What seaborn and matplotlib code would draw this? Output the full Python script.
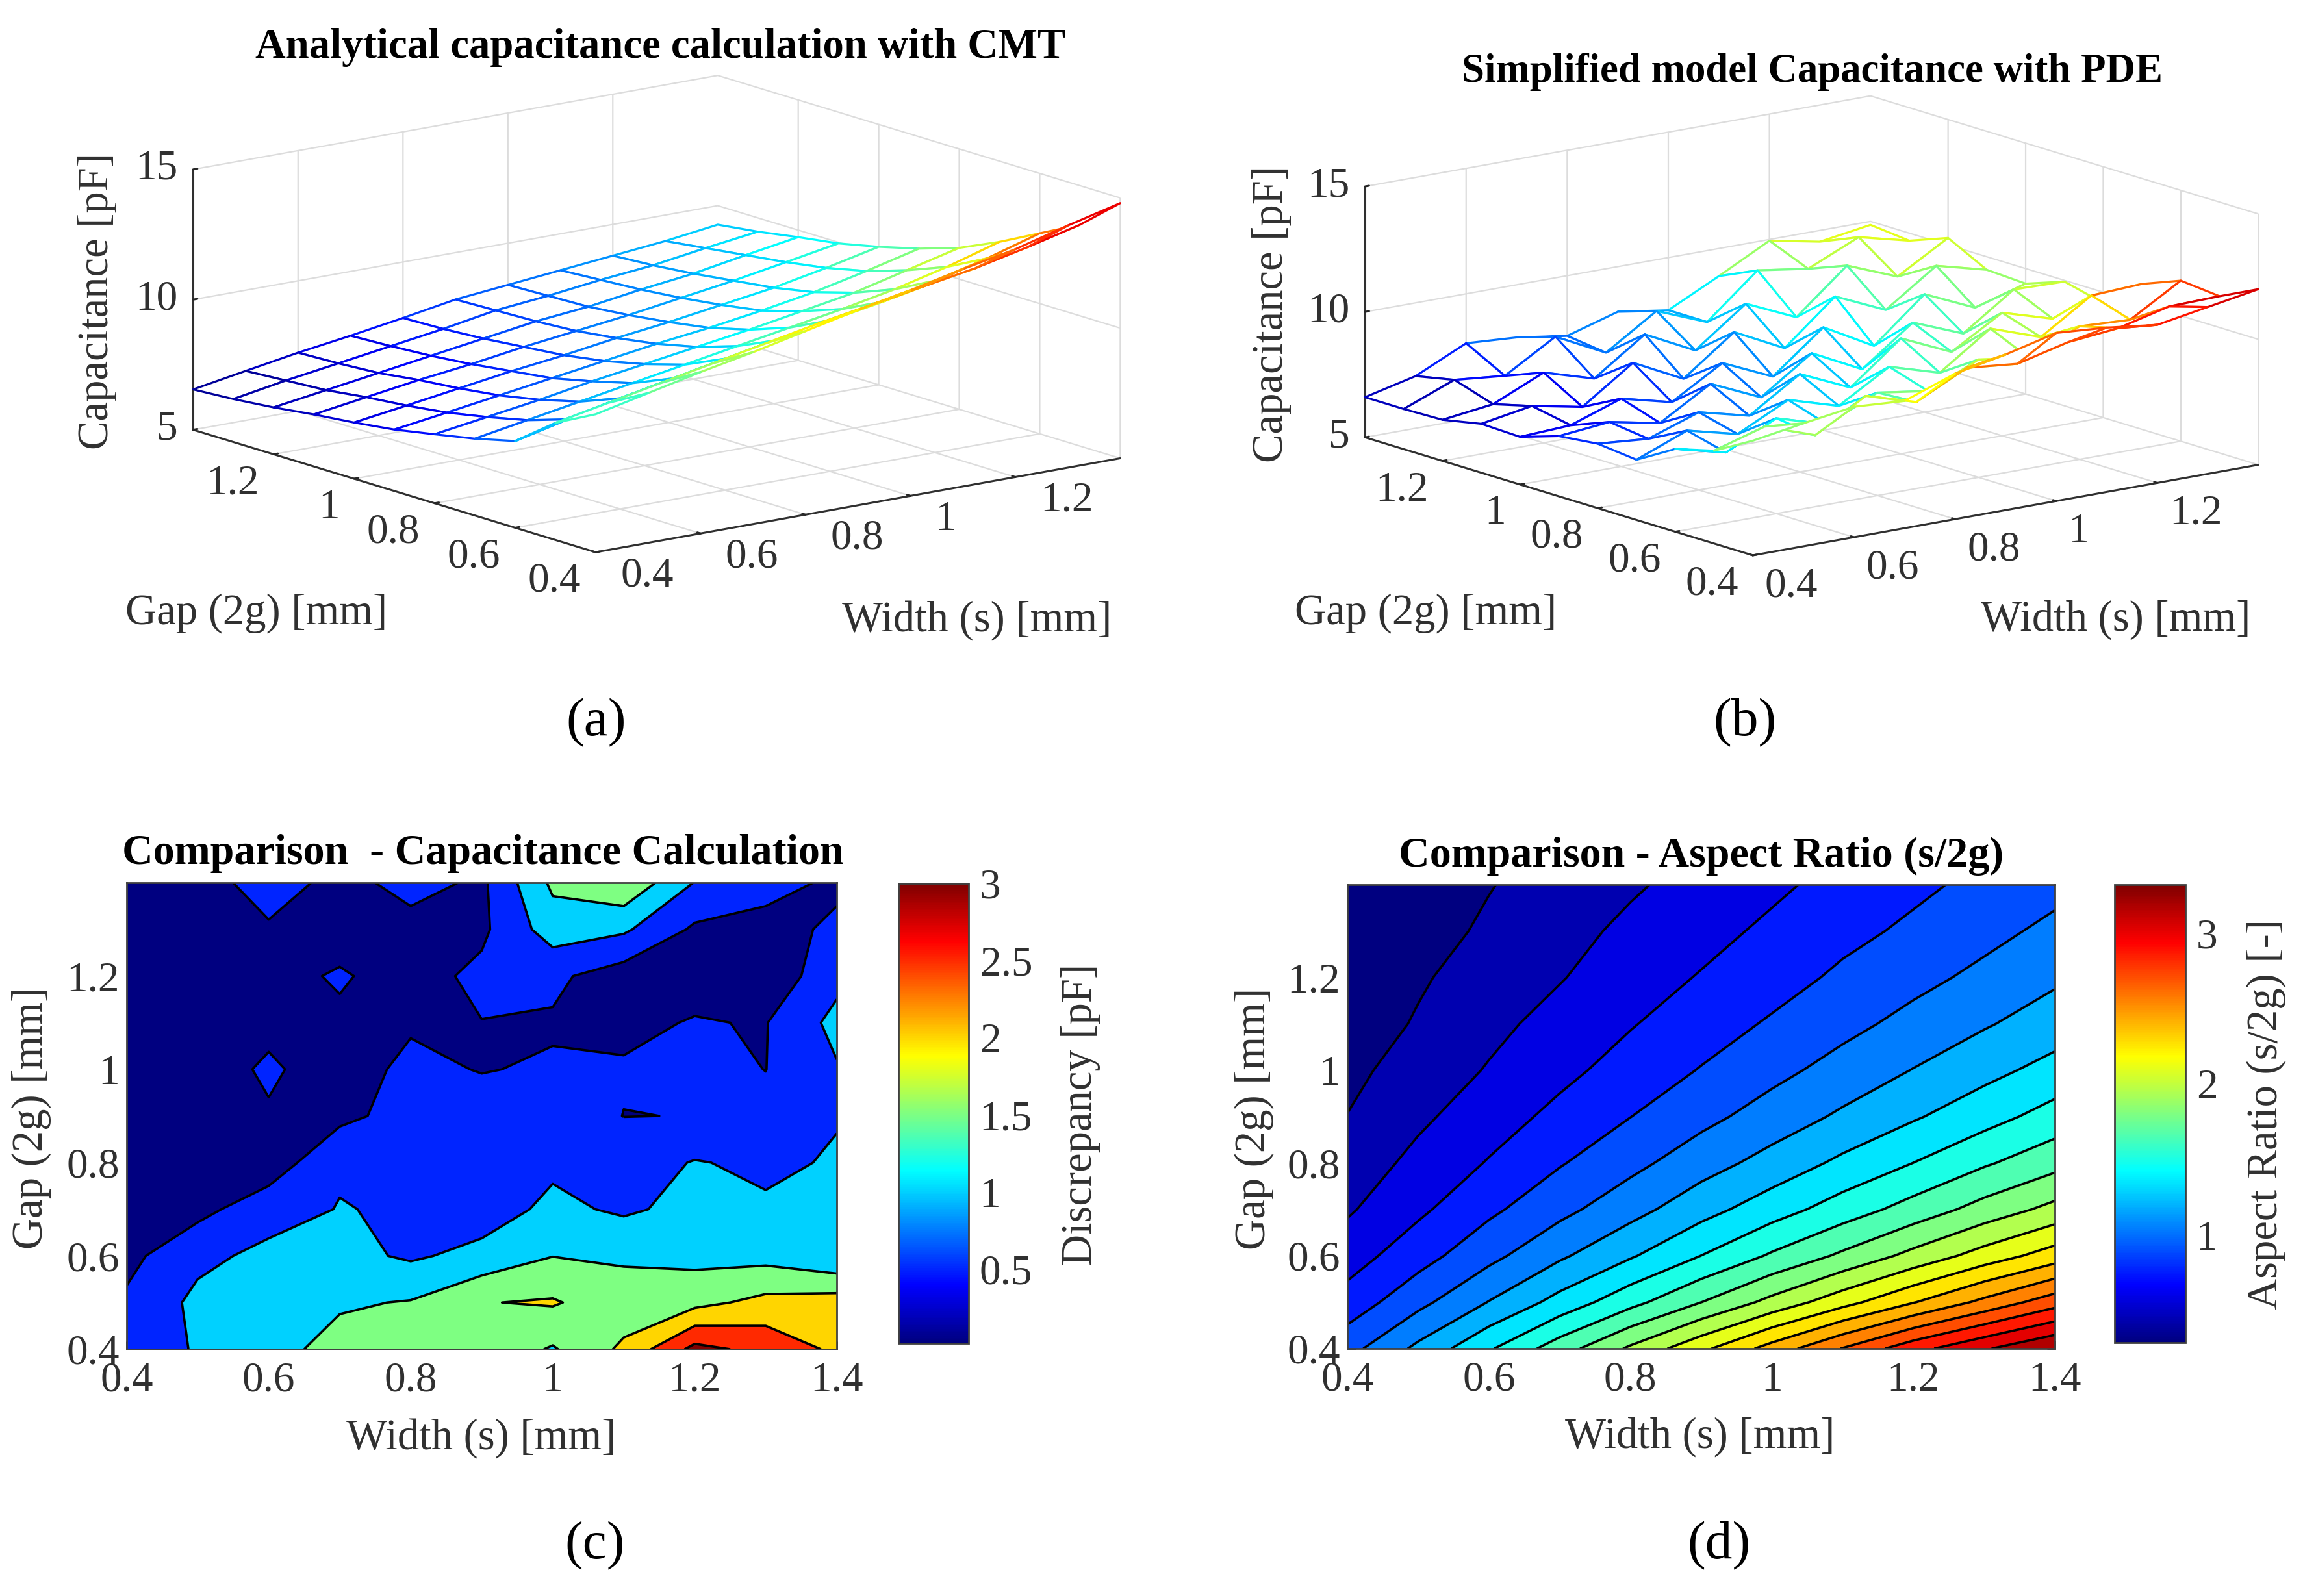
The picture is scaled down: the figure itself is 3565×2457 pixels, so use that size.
import numpy as np
import matplotlib
matplotlib.use("Agg")
import matplotlib.pyplot as plt
import seaborn as sns
from matplotlib.colors import Normalize, LinearSegmentedColormap
from matplotlib.cm import ScalarMappable

W, H = 3565, 2457

width_mm = [0.4, 0.5, 0.6, 0.7, 0.8, 0.9, 1.0, 1.1, 1.2, 1.3, 1.4]
gap_mm = [0.4, 0.5, 0.6, 0.7, 0.8, 0.9, 1.0, 1.1, 1.2, 1.3, 1.4]

# rows go with gap_mm, columns with width_mm
cap_cmt = [
    [10.3, 10.75, 11.2, 11.6, 12.05, 12.5, 12.9, 13.35, 13.75, 14.3, 14.8],
    [9.5, 9.9, 10.3, 10.7, 11.1, 11.5, 11.85, 12.2, 12.55, 13.0, 13.5],
    [8.33, 8.8, 9.25, 9.65, 10.05, 10.4, 10.8, 11.15, 11.6, 12.1, 12.7],
    [7.95, 8.3, 8.65, 9.0, 9.35, 9.7, 10.05, 10.4, 10.8, 11.3, 11.9],
    [7.65, 7.95, 8.25, 8.6, 8.9, 9.2, 9.5, 9.85, 10.2, 10.7, 11.2],
    [7.36, 7.65, 7.95, 8.25, 8.55, 8.85, 9.1, 9.4, 9.75, 10.2, 10.7],
    [7.16, 7.45, 7.75, 8.05, 8.3, 8.6, 8.85, 9.15, 9.45, 9.85, 10.3],
    [7.0, 7.3, 7.6, 7.85, 8.15, 8.4, 8.65, 8.95, 9.25, 9.6, 9.96],
    [6.8, 7.1, 7.4, 7.7, 8.0, 8.3, 8.5, 8.8, 9.05, 9.4, 9.73],
    [6.65, 7.0, 7.3, 7.6, 7.9, 8.25, 8.45, 8.7, 8.9, 9.2, 9.47],
    [6.55, 6.9, 7.24, 7.53, 7.85, 8.2, 8.4, 8.6, 8.8, 9.0, 9.27],
]

cap_pde = [
    [9.57, 9.9, 10.2, 10.07, 10.8, 11.2, 11.7, 11.55, 11.3, 11.65, 12.0],
    [8.7, 9.3, 8.6, 9.8, 9.2, 10.2, 10.0, 10.5, 10.7, 11.2, 11.25],
    [8.3, 7.8, 8.8, 8.2, 9.1, 8.8, 9.7, 9.4, 10.3, 10.2, 11.4],
    [7.4, 8.2, 7.7, 8.7, 8.1, 9.3, 8.7, 10.1, 9.4, 10.7, 10.8],
    [7.57, 7.4, 8.1, 7.6, 8.9, 8.0, 9.6, 8.7, 9.9, 9.3, 9.57],
    [7.4, 7.6, 7.2, 8.4, 7.5, 8.9, 7.9, 9.4, 8.6, 10.0, 9.95],
    [6.9, 7.0, 7.7, 7.2, 8.4, 7.5, 9.1, 8.0, 9.7, 8.8, 9.4],
    [6.95, 7.3, 6.9, 8.3, 7.3, 8.8, 7.8, 9.5, 8.6, 10.0, 9.48],
    [6.64, 6.9, 7.8, 7.2, 8.6, 7.6, 9.1, 8.2, 9.9, 9.1, 10.28],
    [6.6, 7.4, 7.2, 8.4, 7.4, 8.7, 7.9, 9.6, 9.3, 10.2, 9.7],
    [6.6, 7.08, 8.03, 7.9, 7.6, 8.2, 7.9, 8.9, 9.95, 9.55, 9.86],
]

discrepancy = [
    [0.80, 1.03, 1.32, 1.68, 1.80, 1.85, 1.45, 2.10, 3.15, 2.85, 2.40],
    [0.58, 1.12, 1.28, 1.44, 1.53, 1.98, 2.05, 1.70, 1.85, 2.15, 2.24],
    [0.36, 0.88, 1.12, 1.15, 0.93, 1.15, 1.49, 1.44, 1.35, 1.33, 1.05],
    [0.25, 0.35, 0.80, 1.02, 0.94, 0.75, 1.12, 0.92, 1.15, 1.07, 1.08],
    [0.20, 0.25, 0.20, 0.94, 0.85, 0.70, 0.90, 0.75, 1.03, 0.90, 1.05],
    [0.15, 0.20, 0.46, 0.37, 0.70, 0.70, 0.70, 0.495, 0.505, 0.60, 0.97],
    [0.15, 0.30, 0.56, 0.30, 0.60, 0.48, 0.55, 0.53, 0.62, 0.495, 0.96],
    [0.15, 0.20, 0.40, 0.42, 0.45, 0.49, 0.45, 0.43, 0.52, 0.48, 1.15],
    [0.10, 0.20, 0.35, 0.55, 0.30, 0.62, 0.60, 0.25, 0.38, 0.15, 0.85],
    [0.10, 0.15, 0.42, 0.30, 0.30, 0.40, 1.25, 1.08, 0.42, 0.30, 0.60],
    [0.10, 0.20, 0.80, 0.30, 0.70, 0.40, 1.60, 1.92, 0.98, 0.70, 0.40],
]

aspect_ratio = [
    [0.99, 1.23, 1.48, 1.73, 1.98, 2.22, 2.47, 2.72, 2.96, 3.15, 3.32],
    [0.80, 1.00, 1.20, 1.40, 1.60, 1.80, 2.00, 2.20, 2.40, 2.60, 2.80],
    [0.67, 0.83, 1.00, 1.17, 1.33, 1.50, 1.67, 1.83, 2.00, 2.17, 2.33],
    [0.57, 0.71, 0.86, 1.00, 1.14, 1.29, 1.43, 1.57, 1.71, 1.86, 2.00],
    [0.50, 0.63, 0.75, 0.88, 1.00, 1.13, 1.25, 1.38, 1.50, 1.63, 1.75],
    [0.44, 0.56, 0.67, 0.78, 0.89, 1.00, 1.11, 1.22, 1.33, 1.44, 1.56],
    [0.40, 0.50, 0.60, 0.70, 0.80, 0.90, 1.00, 1.10, 1.20, 1.30, 1.40],
    [0.36, 0.45, 0.55, 0.64, 0.73, 0.82, 0.91, 1.00, 1.09, 1.18, 1.27],
    [0.33, 0.42, 0.50, 0.58, 0.67, 0.75, 0.83, 0.92, 1.00, 1.08, 1.17],
    [0.31, 0.38, 0.46, 0.54, 0.62, 0.69, 0.77, 0.85, 0.92, 1.00, 1.08],
    [0.29, 0.36, 0.43, 0.50, 0.57, 0.64, 0.71, 0.79, 0.86, 0.93, 1.00],
]

discrepancy_levels = [0, 0.5, 1, 1.5, 2, 2.5, 3, 3.5]
aspect_levels = [0.2857, 0.437, 0.589, 0.74, 0.892, 1.044, 1.195, 1.347, 1.499, 1.65, 1.802,
                 1.954, 2.106, 2.257, 2.409, 2.561, 2.713, 2.864, 3.016, 3.168, 3.5]

tick_2d = [0.4, 0.6, 0.8, 1.0, 1.2, 1.4]
tick_names = ["0.4", "0.6", "0.8", "1", "1.2", "1.4"]
z_ticks = [5, 10, 15]

sns.set_theme(style="white", rc={"grid.color": "#dcdcdc", "grid.linewidth": 1.6})
plt.rcParams["font.family"] = ["Liberation Serif", "DejaVu Serif"]

# the MATLAB jet, not quite the same as matplotlib's
jet = LinearSegmentedColormap.from_list("matlab_jet", [
    (0.0, (0, 0, 0.5)), (0.125, (0, 0, 1)), (0.375, (0, 1, 1)),
    (0.625, (1, 1, 0)), (0.875, (1, 0, 0)), (1.0, (0.5, 0, 0))])

TEXT = "#303030"
TICK_SIZE = 47
LABEL_SIZE = 48

fig = plt.figure(figsize=(W / 100, H / 100), dpi=100)


def px_axes(left, top, right, bottom, **kw):
    return fig.add_axes([left / W, 1 - bottom / H, (right - left) / W, (bottom - top) / H], **kw)


def px_text(x, y, s, **kw):
    kw.setdefault("ha", "center")
    kw.setdefault("va", "center")
    kw.setdefault("color", TEXT)
    kw.setdefault("fontsize", LABEL_SIZE)
    fig.text(x / W, 1 - y / H, s, **kw)


def mesh_panel(rect, z_data, zoom, width_pad, width_va):
    ax = px_axes(*rect, projection="3d")
    ax.patch.set_alpha(0)
    ax.set_proj_type("ortho")
    ax.view_init(elev=13.5, azim=-127.5)
    ax.set_box_aspect((1, 1, 0.405), zoom=zoom)
    x, y = np.meshgrid(width_mm, gap_mm)
    z = np.array(z_data)
    norm = Normalize(z.min(), z.max())
    surf = ax.plot_surface(x, y, z, rstride=1, cstride=1, color="white", shade=False, linewidth=2.3)
    surf.set_clip_on(False)
    cell = (z[:-1, :-1] + z[1:, :-1] + z[:-1, 1:] + z[1:, 1:]) / 4
    surf.set_edgecolor(jet(norm(cell.ravel())))
    ax.set_xlim(0.4, 1.4, view_margin=0)
    ax.set_ylim(0.4, 1.4, view_margin=0)
    ax.set_zlim(5, 15, view_margin=0)
    ax.set_xticks(tick_2d[:-1], tick_names[:-1], ha="left", va=width_va)
    ax.set_yticks(tick_2d[:-1], tick_names[:-1], ha="right")
    ax.set_zticks(z_ticks, [str(t) for t in z_ticks], ha="right", va="center")
    ax.tick_params(labelsize=TICK_SIZE, labelcolor=TEXT, pad=2)
    ax.tick_params(axis="x", pad=width_pad)
    ax.tick_params(axis="z", pad=-2)
    for axis in (ax.xaxis, ax.yaxis, ax.zaxis):
        axis.set_pane_color((1, 1, 1, 0))
        axis.pane.set_edgecolor("#dcdcdc")
        axis.pane.set_linewidth(1.6)
        axis.line.set_color("#303030")
        axis.line.set_linewidth(2.2)
        axis._axinfo["tick"]["inward_factor"] = 0.0
        axis._axinfo["tick"]["outward_factor"] = 0.1
        axis._axinfo["tick"]["color"] = "#303030"
        axis._axinfo["tick"]["linewidth"] = {True: 2.2, False: 1.0}
    return ax


def contour_panel(rect, cbar_rect, data, levels, vmin, vmax, bar_ticks):
    ax = px_axes(*rect)
    norm = Normalize(vmin, vmax)
    colors = [jet(norm(v)) for v in levels[:-1]]
    ax.contourf(width_mm, gap_mm, data, levels=levels, colors=colors)
    ax.contour(width_mm, gap_mm, data, levels=levels[1:-1], colors="black", linewidths=2.6)
    ax.set_xlim(0.4, 1.4)
    ax.set_ylim(0.4, 1.4)
    ax.set_xticks(tick_2d, tick_names)
    ax.set_yticks(tick_2d[:-1], tick_names[:-1])
    ax.tick_params(direction="in", length=9, width=2, labelsize=TICK_SIZE, labelcolor=TEXT,
                   color="#303030", top=False, right=True, left=True, bottom=True)
    ax.tick_params(axis="x", pad=14)
    ax.tick_params(axis="y", pad=8)
    for s in ax.spines.values():
        s.set_color("#404040")
        s.set_linewidth(2)

    cax = px_axes(*cbar_rect)
    cb = fig.colorbar(ScalarMappable(norm=norm, cmap=jet), cax=cax, ticks=bar_ticks)
    cb.ax.set_yticklabels([str(t) for t in bar_ticks])
    cb.ax.tick_params(direction="in", length=9, width=2, labelsize=TICK_SIZE, labelcolor=TEXT,
                      color="#303030", pad=12)
    cb.outline.set_edgecolor("#404040")
    cb.outline.set_linewidth(2)


mesh_panel((128, 21, 1868, 971), cap_cmt, 1.53, 14, "center")
mesh_panel((1936, 44, 3616, 984), cap_pde, 1.49, 3, "top")

contour_panel((195, 1359, 1288, 2077), (1383, 1360, 1491, 2068), discrepancy,
              discrepancy_levels, 0.02, 3.0, [0.5, 1, 1.5, 2, 2.5, 3])
contour_panel((2074, 1362, 3163, 2076), (3255, 1362, 3364, 2067), aspect_ratio,
              aspect_levels, 0.2857, 3.32, [1, 2, 3])

# titles
px_text(1017, 73, "Analytical capacitance calculation with CMT", fontsize=46.5, fontweight="bold", color="black")
px_text(2790, 110, "Simplified model Capacitance with PDE", fontsize=45.3, fontweight="bold", color="black")
px_text(743, 1314, "Comparison  - Capacitance Calculation", fontsize=47.5, fontweight="bold", color="black")
px_text(2619, 1318, "Comparison - Aspect Ratio (s/2g)", fontsize=47.5, fontweight="bold", color="black")

# axis labels
px_text(395, 944, "Gap (2g) [mm]")
px_text(1504, 955, "Width (s) [mm]")
px_text(150, 463, "Capacitance [pF]", rotation=90)
px_text(2195, 944, "Gap (2g) [mm]")
px_text(3257, 954, "Width (s) [mm]")
px_text(1958, 483, "Capacitance [pF]", rotation=90)
px_text(741, 2214, "Width (s) [mm]")
px_text(48, 1721, "Gap (2g) [mm]", rotation=90)
px_text(1663, 1716, "Discrepancy [pF]", rotation=90)
px_text(2617, 2212, "Width (s) [mm]")
px_text(1930, 1722, "Gap (2g) [mm]", rotation=90)
px_text(3488, 1715, "Aspect Ratio (s/2g) [-]", rotation=90)

# panel letters
px_text(918, 1113, "(a)", color="black", fontsize=60)
px_text(2686, 1113, "(b)", color="black", fontsize=60)
px_text(916, 2380, "(c)", color="black", fontsize=60)
px_text(2646, 2380, "(d)", color="black", fontsize=60)

fig.savefig("out.png", dpi=100, facecolor="white")
